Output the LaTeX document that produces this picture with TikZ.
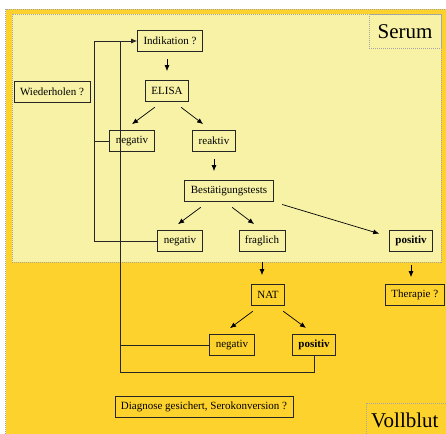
\documentclass[tikz,border=0pt]{standalone}
\usepackage{fontspec}
\setmainfont{Liberation Serif}
\usetikzlibrary{arrows.meta}
\definecolor{gold}{RGB}{254,210,44}
\definecolor{hellgelb}{RGB}{247,242,166}
\tikzset{kasten/.style={draw=black!85, line width=0.8pt, minimum height=21pt, inner xsep=6pt, font=\fontsize{11}{13}\selectfont},
  fett/.style={kasten, line width=1.3pt, font=\fontsize{11}{13}\selectfont\bfseries},
  pfeil/.style={-{Latex[length=6pt,width=5pt]}, line width=0.7pt, shorten <=7pt, shorten >=9pt},
  schraeg/.style={pfeil, shorten <=9pt, shorten >=10pt},
  linie/.style={line width=0.8pt, draw=black!85},
  rahmen/.style={draw=gray!70, dash pattern=on 1pt off 1pt, line width=0.6pt},
  gross/.style={font=\fontsize{21}{24}\selectfont}}

\begin{document}
\begin{tikzpicture}[x=1pt,y=-1pt]
    \useasboundingbox (0,0) rectangle (446,433);
    \clip (0,0) rectangle (446,433);
    \fill[white] (0,0) rectangle (446,433);

    % Hintergrund
    \filldraw[fill=gold, rahmen] (5.5,9) rectangle (460,450);
    \filldraw[fill=hellgelb, rahmen] (12,14) rectangle (441,262);
    \draw[rahmen] (369,14) rectangle (441,48);
    \node[gross] (serum) at (405,32) {Serum};
    \draw[rahmen] (366,403) rectangle (460,450);
    \node[gross, anchor=base west, inner sep=0pt] (vollblut) at (371,427) {Vollblut};

    \node[kasten] (indik) at (170,41) {Indikation ?};
    \node[kasten] (wdh) at (52,92) {Wiederholen ?};
    \node[kasten] (elisa) at (167,91) {ELISA};
    \node[kasten] (neg1) at (132,141) {negativ};
    \node[kasten] (reakt) at (214,141) {reaktiv};
    \node[kasten] (best) at (229,191) {Bestätigungstests};
    \node[kasten] (neg2) at (180,241) {negativ};
    \node[kasten] (fragl) at (262,241) {fraglich};
    \node[fett] (pos1) at (411,241) {positiv};
    \node[kasten] (nat) at (268,295) {NAT};
    \node[kasten, anchor=west] (ther) at (385,295) {Therapie ?};
    \node[kasten] (neg3) at (232,345) {negativ};
    \node[fett] (pos2) at (314,345) {positiv};
    \node[kasten] (diag) at (204,407) {Diagnose gesichert, Serokonversion ?};

    \draw[pfeil] (elisa.north |- indik.south) -- (elisa.north);
    \draw[schraeg] ([xshift=-5pt]elisa.south) -- ([xshift=-8pt]neg1.north);
    \draw[schraeg] ([xshift=7pt]elisa.south) -- ([xshift=-3pt]reakt.north);
    \draw[pfeil] (reakt.south) -- (reakt.south |- best.north);
    \draw[schraeg] ([xshift=-21pt]best.south) -- ([xshift=-10pt]neg2.north);
    \draw[schraeg] ([xshift=-4pt]best.south) -- (fragl.north);
    \draw[schraeg] (best.south east) -- ([yshift=4.5pt]pos1.west);
    \draw[pfeil, shorten <=10pt] (fragl.south) -- (fragl.south |- nat.north);
    \draw[pfeil, shorten <=13pt, shorten >=7pt] (pos1.south) -- (pos1.south |- ther.north);
    \draw[schraeg] ([xshift=-8pt]nat.south) -- ([xshift=-10pt]neg3.north);
    \draw[schraeg] ([xshift=8pt]nat.south) -- (pos2.north);

    % Ruecklaeufe
    \coordinate (s1) at (94,41);
    \coordinate (s2) at (120,372);
    \draw[linie, -{Latex[length=6pt,width=5pt]}] (neg2.west) -| (s1) -- (indik.west);
    \draw[linie] (neg1.west) -- (neg1.west -| s1);
    \draw[linie] (pos2.south) |- (s2) -- (s2 |- indik.west);
    \draw[linie] (neg3.west) -- (neg3.west -| s2);

\end{tikzpicture}
\end{document}
